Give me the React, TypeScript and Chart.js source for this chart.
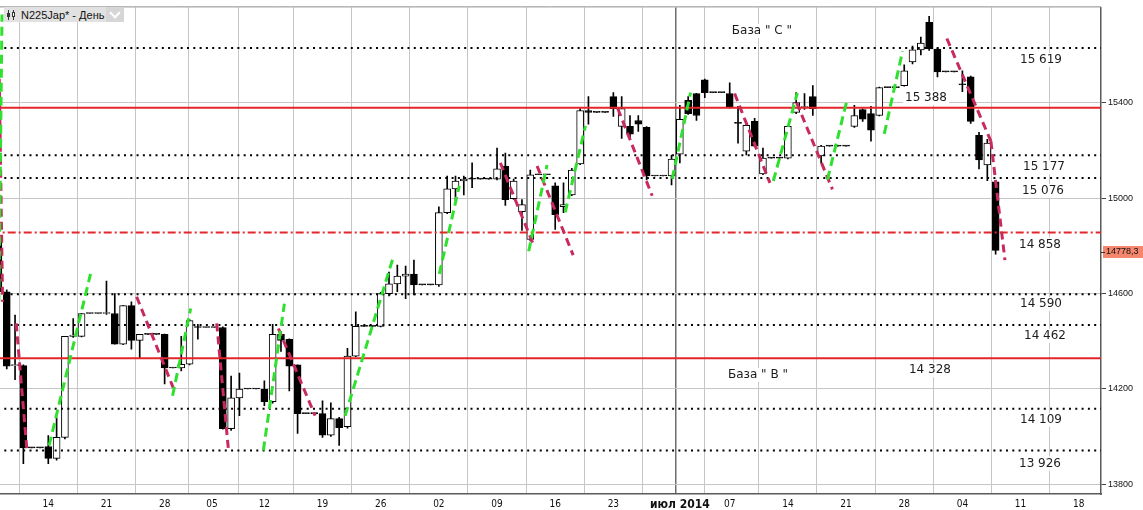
import React, { useEffect, useRef } from 'react';
import { Chart, registerables } from 'chart.js';

Chart.register(...registerables);

// Daily bars of N225Jap*, index 0 = 8 Apr 2014 (weekend / holiday days appear as flat bars)
const opens: number[] = [
  14815, 14607, 14297, 14297, 13952, 13952, 13957, 13908, 13996, 14420,
  14420, 14516, 14516, 14516, 14516, 14387, 14549, 14403, 14428, 14428,
  14428, 14287, 14287, 14303, 14460, 14457, 14457, 14457, 14033, 14162,
  14199, 14199, 14199, 14146, 14428, 14407, 14300, 14096, 14096, 14096,
  14005, 14075, 14041, 14337, 14462, 14462, 14462, 14599, 14640, 14673,
  14681, 14636, 14636, 14636, 14939, 15039, 15072, 15080, 15080, 15080,
  15080, 15135, 14998, 14943, 14827, 15098, 15098, 15052, 14964, 15014,
  15144, 15368, 15360, 15360, 15426, 15301, 15301, 15326, 15297, 15093,
  15093, 15093, 15185, 15410, 15439, 15497, 15443, 15443, 15439, 15318,
  15197, 15322, 15102, 15168, 15168, 15168, 15360, 15380, 15426, 15177,
  15218, 15218, 15218, 15301, 15372, 15355, 15347, 15464, 15464, 15472,
  15572, 15622, 15738, 15626, 15530, 15530, 15476, 15509, 15264, 15139,
  15068,
];
const highs: number[] = [
  14830, 14615, 14509, 14300, 13952, 13952, 14004, 14079, 14420, 14495,
  14516, 14516, 14516, 14652, 14599, 14549, 14565, 14428, 14428, 14428,
  14430, 14287, 14420, 14490, 14470, 14457, 14457, 14460, 14253, 14266,
  14199, 14199, 14233, 14470, 14440, 14410, 14300, 14096, 14096, 14149,
  14141, 14080, 14370, 14523, 14462, 14462, 14605, 14690, 14719, 14715,
  14740, 14636, 14636, 14964, 15093, 15093, 15093, 15148, 15080, 15080,
  15210, 15189, 15080, 14994, 15118, 15098, 15098, 15064, 15064, 15125,
  15376, 15426, 15360, 15360, 15443, 15426, 15347, 15347, 15300, 15093,
  15093, 15181, 15389, 15426, 15440, 15500, 15443, 15443, 15484, 15385,
  15310, 15335, 15210, 15168, 15168, 15305, 15443, 15439, 15472, 15222,
  15218, 15218, 15218, 15389, 15375, 15385, 15466, 15464, 15464, 15559,
  15638, 15676, 15763, 15630, 15530, 15530, 15534, 15512, 15276, 15247,
  15070,
];
const lows: number[] = [
  14600, 14283, 14238, 13886, 13952, 13952, 13886, 13900, 13990, 14415,
  14418, 14516, 14516, 14512, 14387, 14385, 14366, 14328, 14428, 14428,
  14220, 14287, 14275, 14300, 14408, 14457, 14457, 14030, 14025, 14087,
  14199, 14199, 14129, 14140, 14357, 14191, 14013, 14096, 14096, 13996,
  14000, 13962, 14035, 14335, 14462, 14462, 14460, 14590, 14607, 14578,
  14594, 14636, 14636, 14630, 14935, 14989, 15014, 15044, 15080, 15080,
  15077, 14969, 14995, 14865, 14820, 15098, 15098, 14869, 14939, 15010,
  15140, 15310, 15360, 15360, 15343, 15251, 15251, 15280, 15077, 15093,
  15093, 15056, 15148, 15351, 15326, 15422, 15443, 15443, 15378, 15231,
  15181, 15215, 15098, 15168, 15168, 15165, 15355, 15372, 15347, 15148,
  15218, 15218, 15218, 15297, 15322, 15239, 15345, 15464, 15464, 15470,
  15563, 15601, 15620, 15509, 15530, 15530, 15447, 15314, 15123, 15073,
  14765,
];
const closes: number[] = [
  14607, 14295, 14300, 13952, 13952, 13952, 13908, 13996, 14420, 14425,
  14516, 14516, 14516, 14520, 14387, 14549, 14403, 14428, 14428, 14428,
  14287, 14287, 14303, 14486, 14457, 14457, 14457, 14033, 14162, 14199,
  14199, 14199, 14146, 14428, 14403, 14295, 14096, 14096, 14096, 14005,
  14075, 14037, 14337, 14462, 14462, 14462, 14599, 14640, 14673, 14681,
  14636, 14636, 14636, 14939, 15039, 15072, 15080, 15080, 15080, 15080,
  15123, 14994, 15072, 14973, 15098, 15098, 15098, 14931, 14973, 15118,
  15368, 15360, 15360, 15360, 15376, 15376, 15268, 15310, 15093, 15093,
  15093, 15164, 15331, 15355, 15347, 15443, 15443, 15443, 15380, 15314,
  15306, 15218, 15168, 15168, 15168, 15301, 15401, 15382, 15376, 15218,
  15218, 15218, 15218, 15347, 15331, 15285, 15464, 15464, 15464, 15534,
  15622, 15651, 15626, 15530, 15530, 15530, 15476, 15322, 15160, 15231,
  14781,
];

// week grid (bar index) and labels
const xTickPositions: number[] = [6, 13, 20, 25.7, 32, 39, 46, 53, 60, 67, 74, 81, 82, 88, 95, 102, 109, 116, 123, 130];
const xTickLabels: string[] = ['14', '21', '28', '05', '12', '19', '26', '02', '09', '16', '23', '', 'июл 2014', '07', '14', '21', '28', '04', '11', '18'];
const monthTick = 82;
const yTickValues: number[] = [13800, 14200, 14600, 15000, 15400];

// horizontal levels
const dottedLevels: number[] = [15630, 15180, 15085, 14597, 14468, 14116, 13941];
const redSolidLevels: number[] = [15379, 14328];
const redDashDotLevels: number[] = [14856];

// level captions
const levelLabelTexts: string[] = ['15 619', '15 388', '15 177', '15 076', '14 858', '14 590', '14 462', '14 328', '14 109', '13 926'];
const levelLabelValues: number[] = [15630, 15379, 15180, 15085, 14856, 14597, 14468, 14328, 14116, 13941];
const baseLabelTexts: string[] = ['База " С "', 'База " В "'];
const baseLabelValues: number[] = [15701, 14258];
const lastPrice = 14778.3;
const lastPriceText = '14778,3';

// trend segments [x1, price1, x2, price2]
const greenSegments: number[][] = [
  [0.05, 14565, 0.43, 15771],
  [6.1, 13962, 11.08, 14682],
  [20.96, 14171, 23.13, 14537],
  [31.88, 13941, 34.41, 14557],
  [41.72, 14087, 47.47, 14748],
  [53.05, 14682, 55.46, 15052],
  [63.81, 14777, 66.02, 15139],
  [68.2, 14940, 70.64, 15303],
  [81.08, 15081, 83.29, 15443],
  [93.25, 15072, 96.14, 15442],
  [99.76, 15078, 102.09, 15408],
  [106.6, 15270, 108.8, 15617],
];
const pinkSegments: number[][] = [
  [0.1, 15501, 0.5, 14565],
  [2.14, 14474, 3.41, 13950],
  [16.63, 14586, 21.04, 14204],
  [26.27, 14474, 27.66, 13950],
  [33.69, 14453, 38.11, 14087],
  [60.4, 15148, 64.41, 14802],
  [64.82, 15135, 69.16, 14761],
  [74.53, 15376, 78.67, 15010],
  [88.59, 15439, 92.84, 15064],
  [96.06, 15400, 100.36, 15037],
  [114.13, 15670, 119.43, 15239],
  [119.43, 15239, 121.12, 14740],
];

// ---- layout / style (not data) ----
const X_MIN = 0.188;
const X_MAX = 132.68;
const Y_MIN = 13758.4;
const Y_MAX = 15800.5;
const levelLabelX = [125.46, 111.62, 125.82, 125.7, 125.34, 125.46, 125.94, 112.1, 125.46, 125.34];
const levelLabelDy = [12, -10, 12, 13, 12, 10, 11, 12, 11, 13];
const baseLabelX = [91.88, 91.4];

const narrow = '"Liberation Sans Narrow", "DejaVu Sans Condensed", "Arial Narrow", sans-serif';

const annotPlugin = {
  id: 'annot',
  afterDatasetsDraw(chart: any) {
    const { ctx, scales } = chart;
    const x = scales.x;
    const y = scales.y;
    ctx.save();
    ctx.font = '12px "DejaVu Sans", sans-serif';
    ctx.textAlign = 'center';
    ctx.textBaseline = 'middle';
    const draw = (text: string, px: number, py: number) => {
      const w = ctx.measureText(text).width;
      ctx.fillStyle = '#ffffff';
      ctx.fillRect(px - w / 2 - 2, py - 7, w + 4, 14);
      ctx.fillStyle = '#1c1c1c';
      ctx.fillText(text, px, py);
    };
    levelLabelTexts.forEach((t, i) => {
      draw(t, x.getPixelForValue(levelLabelX[i]), y.getPixelForValue(levelLabelValues[i]) + levelLabelDy[i]);
    });
    baseLabelTexts.forEach((t, i) => {
      draw(t, x.getPixelForValue(baseLabelX[i]), y.getPixelForValue(baseLabelValues[i]));
    });
    ctx.restore();
  },
  afterDraw(chart: any) {
    const { ctx, chartArea, scales } = chart;
    const y = scales.y;
    ctx.save();
    // top frame line
    ctx.strokeStyle = '#8c8c8c';
    ctx.lineWidth = 1;
    ctx.beginPath();
    ctx.moveTo(0, chartArea.top - 0.5);
    ctx.lineTo(chartArea.right, chartArea.top - 0.5);
    ctx.stroke();
    // last price tag
    const py = y.getPixelForValue(lastPrice) + 1;
    ctx.fillStyle = '#f4866e';
    ctx.fillRect(chartArea.right + 2, py - 6, 42, 12);
    ctx.strokeStyle = '#333';
    ctx.beginPath();
    ctx.moveTo(chartArea.right, Math.round(py) + 0.5);
    ctx.lineTo(chartArea.right + 4, Math.round(py) + 0.5);
    ctx.stroke();
    ctx.fillStyle = '#111';
    ctx.font = '9px "Liberation Sans", Arial, sans-serif';
    ctx.textAlign = 'left';
    ctx.textBaseline = 'middle';
    ctx.fillText(lastPriceText, chartArea.right + 5, py);
    ctx.restore();
  },
};

export default function App() {
  const ref = useRef<HTMLCanvasElement>(null);

  useEffect(() => {
    const idx = opens.map((_, i) => i);
    const wickData = idx.map((i) => ({ x: i, y: [lows[i], highs[i]] }));
    const bodyData = idx.map((i) => ({ x: i, y: [opens[i], closes[i]] }));
    const bodyColors = idx.map((i) => (closes[i] > opens[i] ? '#ffffff' : '#000000'));

    const hLine = (v: number, color: string, width: number, dash: number[], order: number) => ({
      type: 'line' as const,
      data: [{ x: X_MIN - 1, y: v }, { x: X_MAX + 1, y: v }],
      borderColor: color,
      borderWidth: width,
      borderDash: dash,
      pointRadius: 0,
      fill: false,
      tension: 0,
      order,
    });
    const seg = (s: number[], color: string, dash: number[]) => ({
      type: 'line' as const,
      data: [{ x: s[0], y: s[1] }, { x: s[2], y: s[3] }],
      borderColor: color,
      borderWidth: 3,
      borderDash: dash,
      pointRadius: 0,
      fill: false,
      tension: 0,
      order: 1,
    });

    const datasets: any[] = [
      {
        type: 'bar',
        data: wickData,
        backgroundColor: '#000000',
        borderWidth: 0,
        barThickness: 1,
        grouped: false,
        order: 6,
      },
      {
        type: 'bar',
        data: bodyData,
        backgroundColor: bodyColors,
        borderColor: '#000000',
        borderWidth: 1,
        borderSkipped: false,
        barThickness: 7,
        minBarLength: 1,
        grouped: false,
        order: 5,
      },
      ...dottedLevels.map((v) => hLine(v, '#000000', 2, [2, 4.3], 3)),
      ...redSolidLevels.map((v) => hLine(v, '#e3262a', 2, [], 3)),
      ...redDashDotLevels.map((v) => hLine(v, '#e3262a', 2, [8, 3, 2, 3], 3)),
      ...greenSegments.map((s) => seg(s, '#2fe02f', [9, 5])),
      ...pinkSegments.map((s) => seg(s, '#c92a5c', [8, 5])),
    ];

    const chart = new Chart(ref.current as HTMLCanvasElement, {
      type: 'bar',
      data: { datasets },
      options: {
        animation: false,
        responsive: false,
        devicePixelRatio: 1,
        layout: { padding: { top: 3, left: 0, right: 0, bottom: 0 } },
        plugins: { legend: { display: false }, tooltip: { enabled: false } },
        scales: {
          x: {
            type: 'linear',
            min: X_MIN,
            max: X_MAX,
            offset: false,
            afterBuildTicks: (s: any) => {
              s.ticks = xTickPositions.map((v) => ({ value: v }));
            },
            afterFit: (s: any) => {
              s.height = 16;
            },
            grid: {
              drawTicks: false,
              color: (c: any) => (c.tick && c.tick.value === monthTick ? '#6e6e6e' : '#c6c6c6'),
              lineWidth: (c: any) => (c.tick && c.tick.value === monthTick ? 1.5 : 1),
            },
            border: { color: '#5a5a5a', width: 1.5 },
            ticks: {
              autoSkip: false,
              maxRotation: 0,
              minRotation: 0,
              padding: 4,
              color: '#111111',
              font: (c: any) =>
                c.tick && c.tick.value === monthTick
                  ? { family: narrow, size: 12, weight: 'bold' }
                  : { family: narrow, size: 10 },
              callback: (_v: any, i: number) => xTickLabels[i],
            },
          },
          y: {
            type: 'linear',
            position: 'right',
            min: Y_MIN,
            max: Y_MAX,
            afterBuildTicks: (s: any) => {
              s.ticks = yTickValues.map((v) => ({ value: v }));
            },
            afterFit: (s: any) => {
              s.width = 42;
            },
            grid: { color: '#c6c6c6', tickColor: '#444444', tickLength: 5 },
            border: { color: '#5a5a5a', width: 1.5 },
            ticks: {
              padding: 2,
              color: '#111111',
              font: { family: '"Liberation Sans", Arial, sans-serif', size: 9 },
              callback: (v: any) => String(v),
            },
          },
        },
      } as any,
      plugins: [annotPlugin],
    });
    return () => chart.destroy();
  }, []);

  return (
    <div style={{ position: 'fixed', left: 0, top: 0, width: 1143, height: 510, background: '#ffffff', overflow: 'hidden' }}>
      <canvas ref={ref} width={1143} height={510} style={{ display: 'block', width: 1143, height: 510 }} />
      <div
        style={{
          position: 'absolute',
          left: 4,
          top: 7,
          width: 120,
          height: 15,
          background: '#e1e1e1',
          display: 'flex',
          alignItems: 'center',
          font: '11px "Liberation Sans", Arial, sans-serif',
          color: '#111',
        }}
      >
        <div style={{ position: 'relative', width: 9, height: 10, marginLeft: 3, marginRight: 5 }}>
          <div style={{ position: 'absolute', left: 1, top: 0, width: 1, height: 10, background: '#333' }} />
          <div style={{ position: 'absolute', left: 0, top: 3, width: 3, height: 4, background: '#333' }} />
          <div style={{ position: 'absolute', left: 6, top: 0, width: 1, height: 10, background: '#333' }} />
          <div style={{ position: 'absolute', left: 5, top: 2, width: 3, height: 5, border: '1px solid #333', boxSizing: 'border-box', background: '#fff' }} />
        </div>
        <span style={{ whiteSpace: 'nowrap' }}>N225Jap* - День</span>
        <div style={{ position: 'absolute', right: 0, top: 0, width: 18, height: 15, background: '#d6d6d6' }}>
          <div
            style={{
              position: 'absolute',
              left: 5,
              top: 2,
              width: 6,
              height: 6,
              borderRight: '2px solid #fff',
              borderBottom: '2px solid #fff',
              transform: 'rotate(45deg)',
            }}
          />
        </div>
      </div>
    </div>
  );
}
